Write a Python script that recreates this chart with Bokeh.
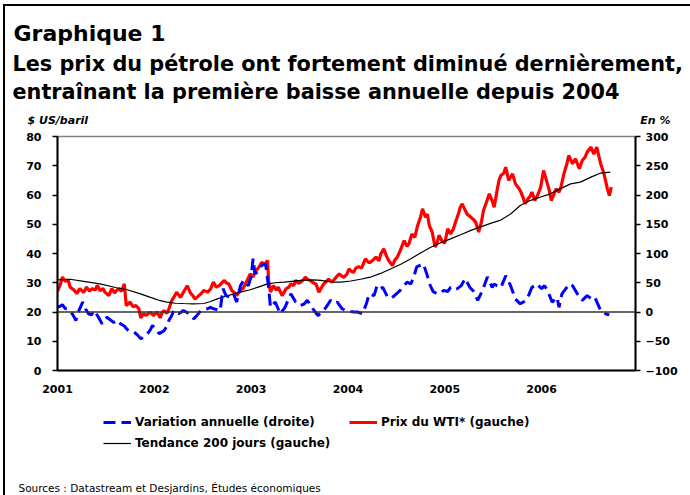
from bokeh.plotting import figure
from bokeh.layouts import column
from bokeh.models import (Range1d, LinearAxis, FixedTicker, Span, Label, Legend, LegendItem)
from bokeh.embed import file_html
from bokeh.resources import INLINE

# ---------------- data ----------------
years = [2001, 2002, 2003, 2004, 2005, 2006]
year_labels = ["2001", "2002", "2003", "2004", "2005", "2006"]
left_ticks = [0, 10, 20, 30, 40, 50, 60, 70, 80]
right_ticks = [-100, -50, 0, 50, 100, 150, 200, 250, 300]

# WTI price, $US/baril (left axis)
t_wti = [2001.00, 2001.03, 2001.05, 2001.08, 2001.11, 2001.13, 2001.17, 2001.20, 2001.23, 2001.27,
         2001.30, 2001.33, 2001.36, 2001.39, 2001.41, 2001.44, 2001.47, 2001.49, 2001.53, 2001.56,
         2001.59, 2001.61, 2001.64, 2001.66, 2001.69, 2001.71, 2001.75, 2001.78, 2001.81, 2001.84,
         2001.86, 2001.89, 2001.91, 2001.94, 2001.96, 2001.99, 2002.03, 2002.06, 2002.08, 2002.10,
         2002.13, 2002.15, 2002.18, 2002.21, 2002.23, 2002.27, 2002.30, 2002.34, 2002.37, 2002.40,
         2002.42, 2002.46, 2002.49, 2002.51, 2002.55, 2002.58, 2002.61, 2002.64, 2002.67, 2002.70,
         2002.72, 2002.75, 2002.77, 2002.80, 2002.83, 2002.85, 2002.89, 2002.92, 2002.94, 2002.97,
         2002.99, 2003.02, 2003.04, 2003.06, 2003.08, 2003.11, 2003.14, 2003.17, 2003.18, 2003.20,
         2003.23, 2003.26, 2003.28, 2003.30, 2003.32, 2003.36, 2003.39, 2003.41, 2003.44, 2003.46,
         2003.49, 2003.51, 2003.54, 2003.56, 2003.59, 2003.61, 2003.64, 2003.67, 2003.70, 2003.72,
         2003.75, 2003.78, 2003.80, 2003.83, 2003.85, 2003.88, 2003.91, 2003.94, 2003.96, 2003.99,
         2004.01, 2004.04, 2004.06, 2004.08, 2004.11, 2004.14, 2004.18, 2004.21, 2004.23, 2004.26,
         2004.29, 2004.32, 2004.34, 2004.37, 2004.40, 2004.42, 2004.46, 2004.48, 2004.51, 2004.54,
         2004.58, 2004.61, 2004.63, 2004.66, 2004.69, 2004.72, 2004.75, 2004.77, 2004.80, 2004.82,
         2004.84, 2004.87, 2004.90, 2004.92, 2004.94, 2004.97, 2005.00, 2005.03, 2005.06, 2005.09,
         2005.11, 2005.14, 2005.16, 2005.18, 2005.20, 2005.23, 2005.27, 2005.30, 2005.32, 2005.35,
         2005.38, 2005.40, 2005.43, 2005.46, 2005.49, 2005.51, 2005.54, 2005.56, 2005.58, 2005.61,
         2005.63, 2005.66, 2005.70, 2005.73, 2005.76, 2005.78, 2005.81, 2005.83, 2005.86, 2005.88,
         2005.90, 2005.93, 2005.96, 2005.99, 2006.02, 2006.05, 2006.08, 2006.10, 2006.13, 2006.15,
         2006.18, 2006.20, 2006.23, 2006.26, 2006.28, 2006.32, 2006.35, 2006.39, 2006.42, 2006.45,
         2006.47, 2006.51, 2006.54, 2006.57, 2006.59, 2006.61, 2006.64, 2006.66, 2006.68, 2006.70,
         2006.72]
v_wti = [27.0, 29.5, 31.9, 30.5, 31.0, 28.5, 27.5, 26.3, 28.0, 26.7,
         28.5, 27.2, 28.0, 27.5, 29.1, 27.3, 28.0, 26.8, 25.6, 28.0,
         26.5, 27.4, 28.0, 27.0, 29.6, 22.2, 23.4, 21.8, 22.2, 21.1,
         18.0, 19.5, 18.8, 19.5, 19.9, 18.8, 20.0, 18.0, 19.8, 20.5,
         19.5, 21.0, 23.9, 25.5, 26.8, 25.0, 26.7, 29.0, 26.7, 25.5,
         24.4, 25.6, 26.5, 27.4, 26.8, 27.8, 30.2, 28.5, 29.0, 30.0,
         30.8, 29.8, 29.6, 27.4, 26.5, 25.6, 27.4, 28.2, 29.6, 31.5,
         33.0, 32.0, 33.6, 34.5, 35.3, 37.0, 36.2, 37.6, 30.8, 26.8,
         29.0, 27.5, 28.5, 27.0, 25.6, 27.9, 28.5, 29.6, 29.0, 30.8,
         29.8, 30.2, 31.0, 31.9, 31.0, 30.8, 30.0, 29.6, 26.8, 28.0,
         29.6, 30.5, 31.3, 30.2, 30.8, 32.0, 33.0, 32.2, 31.9, 33.0,
         34.7, 33.8, 33.6, 35.0, 35.5, 35.0, 38.2, 37.0, 37.0, 37.8,
         38.8, 37.5, 39.9, 41.6, 39.0, 37.6, 35.9, 37.5, 38.8, 41.0,
         44.4, 42.5, 43.3, 46.7, 45.5, 49.6, 52.5, 55.3, 52.4, 53.5,
         49.6, 47.3, 42.2, 43.5, 46.2, 44.4, 43.5, 48.4, 46.7, 48.5,
         50.7, 53.5, 55.8, 57.0, 55.5, 53.5, 52.4, 51.5, 50.7, 47.3,
         51.0, 54.7, 57.5, 60.4, 58.0, 55.8, 61.5, 65.0, 66.7, 67.5,
         69.5, 65.0, 67.2, 63.8, 62.5, 61.5, 59.0, 57.0, 58.7, 59.5,
         61.0, 58.1, 60.0, 62.6, 68.4, 65.0, 61.5, 58.1, 60.5, 62.1,
         61.0, 62.7, 67.2, 70.5, 73.5, 70.7, 72.4, 69.0, 71.8, 73.0,
         74.6, 76.4, 74.0, 76.4, 73.5, 70.7, 67.8, 65.0, 62.1, 59.8,
         62.7]

# 200-day trend, $US/baril (left axis)
t_trend = [2001.00, 2001.13, 2001.27, 2001.44, 2001.61, 2001.72, 2001.85, 2001.96, 2002.05, 2002.13,
           2002.22, 2002.30, 2002.40, 2002.51, 2002.58, 2002.65, 2002.74, 2002.82, 2002.90, 2002.99,
           2003.08, 2003.17, 2003.25, 2003.34, 2003.42, 2003.51, 2003.58, 2003.65, 2003.72, 2003.79,
           2003.86, 2003.93, 2004.03, 2004.13, 2004.23, 2004.33, 2004.44, 2004.55, 2004.65, 2004.75,
           2004.86, 2004.96, 2005.06, 2005.17, 2005.27, 2005.37, 2005.48, 2005.57, 2005.68, 2005.78,
           2005.88, 2005.99, 2006.09, 2006.19, 2006.30, 2006.40, 2006.51, 2006.61, 2006.71]
v_trend = [31.0, 31.2, 30.5, 29.6, 28.3, 27.6, 26.3, 25.0, 24.0, 23.4,
           23.0, 22.9, 22.8, 22.9, 23.6, 24.5, 25.4, 26.2, 26.9, 27.6,
           28.6, 29.6, 30.0, 30.2, 30.5, 30.8, 30.9, 31.0, 30.8, 30.5,
           30.2, 30.2, 30.6, 31.2, 31.9, 33.1, 34.7, 36.4, 38.2, 40.2,
           42.2, 43.7, 45.0, 46.5, 47.9, 49.1, 50.4, 51.3, 53.5, 56.4,
           58.1, 59.3, 60.4, 62.1, 63.8, 64.4, 66.1, 67.5, 67.8]

# Annual change, % (right axis)
t_var = [2001.00, 2001.03, 2001.05, 2001.08, 2001.10, 2001.14, 2001.17, 2001.19, 2001.22, 2001.26,
         2001.29, 2001.32, 2001.35, 2001.38, 2001.42, 2001.46, 2001.49, 2001.51, 2001.55, 2001.58,
         2001.62, 2001.65, 2001.69, 2001.72, 2001.74, 2001.79, 2001.83, 2001.86, 2001.90, 2001.93,
         2001.96, 2001.98, 2002.02, 2002.05, 2002.08, 2002.10, 2002.13, 2002.15, 2002.18, 2002.20,
         2002.25, 2002.28, 2002.30, 2002.33, 2002.36, 2002.38, 2002.41, 2002.45, 2002.48, 2002.51,
         2002.55, 2002.58, 2002.61, 2002.65, 2002.68, 2002.71, 2002.74, 2002.79, 2002.82, 2002.85,
         2002.89, 2002.92, 2002.97, 2003.00, 2003.02, 2003.04, 2003.08, 2003.11, 2003.15, 2003.18,
         2003.20, 2003.25, 2003.30, 2003.35, 2003.38, 2003.41, 2003.46, 2003.51, 2003.55, 2003.58,
         2003.62, 2003.65, 2003.69, 2003.72, 2003.75, 2003.79, 2003.82, 2003.86, 2003.89, 2003.94,
         2003.97, 2003.99, 2004.03, 2004.06, 2004.10, 2004.15, 2004.19, 2004.22, 2004.27, 2004.30,
         2004.33, 2004.36, 2004.41, 2004.45, 2004.48, 2004.54, 2004.58, 2004.61, 2004.65, 2004.68,
         2004.71, 2004.75, 2004.78, 2004.82, 2004.85, 2004.88, 2004.92, 2004.96, 2004.99, 2005.03,
         2005.06, 2005.10, 2005.13, 2005.17, 2005.21, 2005.26, 2005.30, 2005.34, 2005.39, 2005.44,
         2005.49, 2005.51, 2005.54, 2005.58, 2005.63, 2005.68, 2005.73, 2005.78, 2005.82, 2005.85,
         2005.90, 2005.95, 2006.00, 2006.03, 2006.06, 2006.11, 2006.16, 2006.18, 2006.21, 2006.26,
         2006.29, 2006.32, 2006.37, 2006.42, 2006.47, 2006.52, 2006.55, 2006.58, 2006.61, 2006.66,
         2006.70]
v_var = [8, 10, 12.5, 6, 5.5, 0, -8, -14.5, 2, 17,
         5, -3, -5, 2.5, -8, -20, -12, -9, -14, -18,
         -14, -20, -24, -30, -32, -34, -40, -46, -41, -37,
         -30, -23, -30, -37, -34, -32, -24, -14.5, -6, 2.5,
         -3, 0, 2.5, 0, -3, -8, -11.5, -4, 2.5, 4,
         5.5, 8, 5.5, 4, 2.5, 40, 28, 25, 30, 17,
         45, 54, 45, 60, 91, 65, 71, 80, 82, 42,
         8, 17, -3, 8, 20, 31, 17, 11, 14, 20,
         10, 2.5, -6, -2, 2.5, 12, 20, 15, 17, 5.5,
         3, 2.5, 1, 0, 0, -3, 14, 31, 28, 45,
         40, 42, 25, 24, 28, 37, 45, 51, 48, 60,
         77, 80, 82, 62, 45, 35, 31, 33, 37, 35,
         42, 38, 40, 45, 57, 42, 35, 20, 37, 60,
         42, 48, 45, 42, 62, 45, 22, 14, 18, 22,
         42, 48, 40, 45, 37, 17, 25, 8, 31, 42,
         48, 45, 31, 20, 28, 22, 25, 14, 2.5, -3,
         -5]

title_main = "Graphique 1"
title_l1 = "Les prix du pétrole ont fortement diminué dernièrement,"
title_l2 = "entraînant la première baisse annuelle depuis 2004"
left_unit = "$ US/baril"
right_unit = "En %"
lab_var = "Variation annuelle (droite)"
lab_wti = "Prix du WTI* (gauche)"
lab_trend = "Tendance 200 jours (gauche)"
source_txt = "Sources : Datastream et Desjardins, Études économiques"

FONT = "DejaVu Sans"
W = 685
H_TOP, H_MAIN, H_BOT = 120, 274, 95
BLUE, RED = "#0000FF", "#FF0000"
DASH = "12 6"


def bare_figure(h, y_start, y_end):
    f = figure(width=W, height=h, output_backend="svg", toolbar_location=None,
               x_range=Range1d(0, W), y_range=Range1d(y_start, y_end),
               x_axis_type=None, y_axis_type=None, min_border=0,
               min_border_left=0, min_border_right=0, min_border_top=0, min_border_bottom=0,
               background_fill_color="white", border_fill_color="white",
               frame_align=False)
    f.outline_line_color = None
    f.grid.visible = False
    return f


def add_text(f, txt, x, y, size, style="bold", align="left"):
    f.add_layout(Label(x=x, y=y, text=txt, text_font=FONT, text_font_style=style,
                       text_font_size=size, text_color="black", text_align=align,
                       text_baseline="alphabetic"))


# ---------------- top block: titles and units ----------------
top = bare_figure(H_TOP, H_TOP, 0)   # y grows downward (pixels)
add_text(top, title_main, 8, 26.7, "22px")
add_text(top, title_l1, 7, 57.3, "20.8px")
add_text(top, title_l2, 7, 85.0, "20.8px")
add_text(top, left_unit, 22, 113.5, "11px", style="bold italic")
add_text(top, right_unit, 665, 113.5, "11px", style="bold italic", align="right")

# ---------------- main chart ----------------
p = figure(width=W, height=H_MAIN, output_backend="svg", toolbar_location=None,
           x_range=Range1d(2001.0, 2006.97), y_range=Range1d(0, 80),
           min_border_left=52, min_border_right=55, min_border_top=10, min_border_bottom=30,
           background_fill_color="white", border_fill_color="white", frame_align=False)
p.xgrid.visible = False
p.ygrid.visible = False
p.outline_line_color = "#808080"
p.outline_line_width = 1.5
p.extra_y_ranges = {"pct": Range1d(-100, 300)}

xa = p.xaxis[0]
xa.ticker = FixedTicker(ticks=years)
xa.major_label_overrides = {y: s for y, s in zip(years, year_labels)}
xa.major_tick_out = 0
xa.major_tick_in = 0
xa.minor_tick_out = 0
xa.minor_tick_in = 0
xa.axis_line_width = 2
xa.axis_line_color = "black"
xa.major_label_standoff = 14
xa.major_label_text_font = FONT
xa.major_label_text_font_style = "bold"
xa.major_label_text_font_size = "11px"
xa.major_label_text_color = "black"

ya = p.yaxis[0]
ya.ticker = FixedTicker(ticks=left_ticks)
ya.major_tick_out = 5
ya.major_tick_in = 0
ya.minor_tick_out = 0
ya.minor_tick_in = 0
ya.major_tick_line_width = 1.5
ya.axis_line_width = 2
ya.axis_line_color = "black"
ya.major_label_standoff = 11
ya.major_label_text_font = FONT
ya.major_label_text_font_style = "bold"
ya.major_label_text_font_size = "11px"
ya.major_label_text_color = "black"

ra = LinearAxis(y_range_name="pct", ticker=FixedTicker(ticks=right_ticks),
                major_tick_out=5, major_tick_in=0, minor_tick_out=0, minor_tick_in=0,
                major_tick_line_width=1.5, axis_line_width=2, axis_line_color="black",
                major_label_standoff=5, major_label_text_font=FONT,
                major_label_text_font_style="bold", major_label_text_font_size="11px",
                major_label_text_color="black")
p.add_layout(ra, "right")

p.add_layout(Span(location=0, dimension="width", y_range_name="pct",
                  line_color="#333333", line_width=1.5))

p.line(t_wti, v_wti, line_color=RED, line_width=3.2)
p.line(t_trend, v_trend, line_color="black", line_width=1.2)
p.line(t_var, v_var, y_range_name="pct", line_color=BLUE, line_width=3, line_dash=DASH)

# ---------------- bottom block: legend and sources ----------------
# the same series, out of this panel's view, only feed the legend samples
bot = bare_figure(H_BOT, 0, H_BOT)   # y grows upward
lg_var = bot.line(t_var, v_var, line_color=BLUE, line_width=3, line_dash=DASH)
lg_wti = bot.line(t_wti, v_wti, line_color=RED, line_width=3)
lg_trend = bot.line(t_trend, v_trend, line_color="black", line_width=1.2)


def add_legend(f, label, rend, x, y):
    lg = Legend(items=[LegendItem(label=label, renderers=[rend])], location=(x, y),
                orientation="vertical", padding=0, margin=0, spacing=0,
                glyph_width=28, glyph_height=14, label_height=14, label_standoff=4,
                label_text_font=FONT, label_text_font_style="bold",
                label_text_font_size="12px", label_text_color="black",
                background_fill_alpha=0, border_line_alpha=0)
    f.add_layout(lg, "center")


add_legend(bot, lab_var, lg_var, 98, 66)
add_legend(bot, lab_wti, lg_wti, 344, 66)
add_legend(bot, lab_trend, lg_trend, 98, 45)
add_text(bot, source_txt, 13, 8, "10.5px", style="normal")

layout = column(top, p, bot, spacing=0,
                styles={"margin-left": "3px", "margin-top": "4px",
                        "border-left": "2px solid black", "border-top": "2px solid black"})

open("out.html", "w").write(file_html(layout, INLINE))
